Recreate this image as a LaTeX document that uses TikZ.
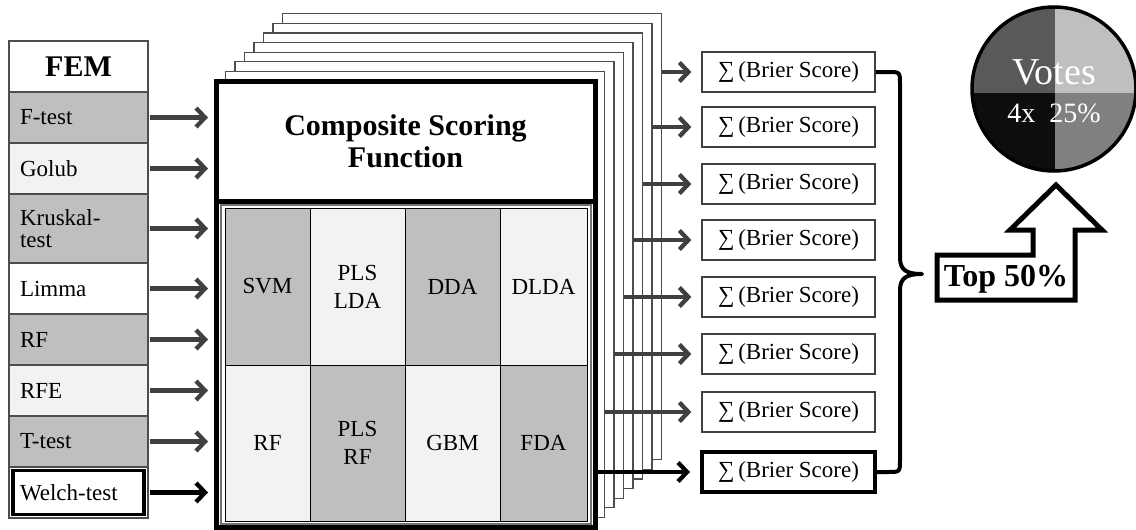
\documentclass[tikz,border=0pt]{standalone}
\usepackage{fontspec}
\setmainfont{Liberation Serif}
\usetikzlibrary{positioning,arrows.meta,calc}
\definecolor{cellgray}{HTML}{BFBFBF}
\definecolor{celllight}{HTML}{F2F2F2}
\definecolor{arrowgray}{HTML}{404040}
\definecolor{edgegray}{HTML}{4D4D4D}
\definecolor{pieTL}{HTML}{595959}
\definecolor{pieTR}{HTML}{BFBFBF}
\definecolor{pieBL}{HTML}{0D0D0D}
\definecolor{pieBR}{HTML}{808080}

\begin{document}
\begin{tikzpicture}[x=1pt,y=-1pt,node distance=0pt,
 bodytext/.style={font=\fontsize{23}{26}\selectfont},
 femrow/.style={bodytext,draw=edgegray,line width=1.3pt,minimum width=139pt,minimum height=51pt,text width=117pt,inner xsep=11pt,inner ysep=1pt,align=left,outer sep=0pt},
 femhead/.style={femrow,fill=white,align=center,font=\bfseries\fontsize{30}{34}\selectfont},
 sheet/.style={draw=edgegray,line width=1.2pt,fill=white,minimum width=379pt,minimum height=446pt,inner sep=0pt,outer sep=0pt},
 mainsheet/.style={sheet,draw=black,line width=5pt},
 cell/.style={bodytext,font=\fontsize{23}{28}\selectfont,draw=black,line width=0.9pt,align=center,inner sep=0pt,outer sep=0pt},
 brier/.style={bodytext,draw=arrowgray,line width=1.3pt,fill=white,minimum width=173pt,minimum height=40pt,inner sep=0pt},
 feed/.style={draw=arrowgray,line width=4.3pt,-{Straight Barb[length=9pt,width=19pt]},shorten >=8pt,shorten <=2pt},
 outfeed/.style={feed,shorten <=0pt,shorten >=10pt},
 bracepath/.style={draw=black,line width=4pt,line join=round},
 bigarrow/.style={draw=black,line width=5pt,fill=white,line join=miter},
 pietext/.style={text=white,inner sep=0pt}]

\fill[white] (0,0) rectangle (1136,530);
\useasboundingbox (0,0) rectangle (1136,530);

% Feature evaluation methods, one row below the other.
\node[femhead] (fem) at (78.5,66.5) {FEM};
\node[femrow,fill=cellgray,below=of fem] (ftest) {F-test};
\node[femrow,fill=celllight,below=of ftest] (golub) {Golub};
\node[femrow,fill=cellgray,minimum height=69pt,below=of golub,font=\fontsize{23}{22}\selectfont] (kruskal) {Kruskal-\\test};
\node[femrow,fill=white,below=of kruskal] (limma) {Limma};
\node[femrow,fill=cellgray,below=of limma] (femrf) {RF};
\node[femrow,fill=celllight,below=of femrf] (rfe) {RFE};
\node[femrow,fill=cellgray,below=of rfe] (ttest) {T-test};
\node[femrow,fill=white,below=of ttest] (welch) {Welch-test};
\draw[line width=3.5pt] ([shift={(4,3.5)}]welch.north west) rectangle ([shift={(-4,-3.5)}]welch.south east);

% Stack of scoring sheets, back to front.
\foreach \k in {7,...,1} \node[sheet] (pg\k) at ({405.5+9.5*\k},{304-9.6*\k}) {};
\node[mainsheet] (pg0) at (405.5,304) {};
\draw[line width=5pt] (pg0.west |- 0,201) -- (pg0.east |- 0,201);
\node[font=\bfseries\fontsize{30}{32}\selectfont,align=center] (csfhead) at (405.5,141) {Composite Scoring\\Function};

% Classifier grid.
\draw[draw=black!55,line width=1.2pt] (221,205) rectangle (591,524);
\foreach \name/\xa/\xb/\ya/\yb/\shade/\txt in {
 clsvm/225/310/208/365/cellgray/SVM,
 clplslda/310/405/208/365/celllight/PLS\\LDA,
 cldda/405/500/208/365/cellgray/DDA,
 cldlda/500/587/208/365/celllight/DLDA,
 clrf/225/310/365/521/celllight/RF,
 clplsrf/310/405/365/521/cellgray/PLS\\RF,
 clgbm/405/500/365/521/celllight/GBM,
 clfda/500/587/365/521/cellgray/FDA}
 \node[cell,fill=\shade,minimum width={(\xb-\xa)*1pt},minimum height={(\yb-\ya)*1pt}] (\name) at ({(\xa+\xb)/2},{(\ya+\yb)/2}) {\txt};

% Inputs from the FEM column.
\foreach \r in {ftest,golub,kruskal,limma,femrf,rfe,ttest} \draw[feed] (\r.east) -- (\r.east -| pg0.west);
\draw[feed,draw=black] (welch.east) -- (welch.east -| pg0.west);

% Summed Brier scores, one per sheet.
\foreach \i/\y in {1/72,2/127,3/184,4/240,5/297,6/354,7/412} \node[brier] (bs\i) at (788.5,\y) {∑\,(Brier Score)};
\node[brier,draw=black,line width=4pt] (bs8) at (788.5,472) {∑\,(Brier Score)};
\foreach \i/\k in {1/7,2/6,3/5,4/4,5/3,6/2,7/1} \draw[outfeed] (pg\k.east |- bs\i) -- (bs\i.west);
\draw[outfeed,draw=black] (pg0.east |- bs8) -- (bs8.west);

% Brace over all scores.
\draw[bracepath] (bs1.east) -- (888,72) .. controls (900,72) .. (900,84) -- (900,258)
 .. controls (900,271) and (908,274) .. (922,274) .. controls (908,274) and (900,277) .. (900,290)
 -- (900,460) .. controls (900,472) .. (888,472) -- (bs8.east);

% Selection arrow.
\draw[bigarrow] (1056,185) -- (1102,230) -- (1075,230) -- (1075,300) -- (937,300) -- (937,255) -- (1033,255) -- (1033,230) -- (1010,230) -- cycle;
\node[font=\bfseries\fontsize{32}{36}\selectfont,inner sep=0pt] (top50) at (1006,279) {Top 50\%};

% Voting pie.
\begin{scope}
\clip (1054,89) circle[radius=82pt];
\fill[pieTL] (970,0) rectangle (1055,93);
\fill[pieTR] (1055,0) rectangle (1140,93);
\fill[pieBL] (970,93) rectangle (1055,175);
\fill[pieBR] (1055,93) rectangle (1140,175);
\end{scope}
\draw[line width=3.5pt] (1054,89) circle[radius=82pt];
\node[pietext,font=\fontsize{38}{40}\selectfont] (votes) at (1054,72) {Votes};
\node[pietext,font=\fontsize{28}{30}\selectfont] (share) at (1054,113) {4x\enspace 25\%};
\end{tikzpicture}
\end{document}
